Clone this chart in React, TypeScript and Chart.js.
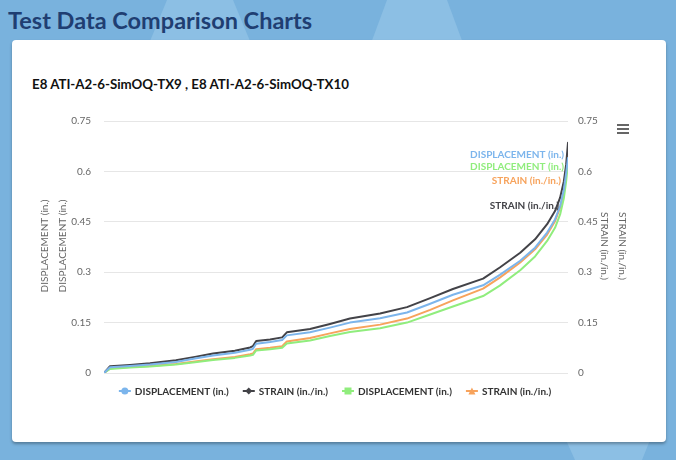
import React, { useEffect, useRef } from "react";
import { Chart, registerables } from "chart.js";

Chart.register(...registerables);

// ---- data ----
const pageTitle = "Test Data Comparison Charts";
const chartTitle = "E8 ATI-A2-6-SimOQ-TX9 , E8 ATI-A2-6-SimOQ-TX10";

const xPositions = [0, 1.3, 5.6, 9.9, 15.5, 19.6, 23.5, 28.2, 31.5, 32.1, 32.8, 35.8, 38.4, 39.4, 44.4, 48.7, 53, 59.5, 65.3, 70.3, 75.2, 81.7, 85.3, 89.7, 92.9, 95.5, 97.2, 98.3, 99.1, 99.6, 100];

const displacementTX9 = [0, 0.017, 0.021, 0.025, 0.033, 0.043, 0.052, 0.060, 0.069, 0.072, 0.087, 0.092, 0.098, 0.112, 0.121, 0.135, 0.150, 0.163, 0.180, 0.206, 0.233, 0.261, 0.292, 0.334, 0.373, 0.418, 0.457, 0.497, 0.545, 0.595, 0.64];
const strainTX9 = [0, 0.020, 0.024, 0.029, 0.038, 0.048, 0.058, 0.066, 0.076, 0.080, 0.095, 0.100, 0.106, 0.121, 0.131, 0.146, 0.162, 0.177, 0.196, 0.223, 0.250, 0.281, 0.314, 0.358, 0.398, 0.443, 0.482, 0.522, 0.57, 0.62, 0.685];
const displacementTX10 = [0, 0.012, 0.016, 0.019, 0.025, 0.032, 0.039, 0.045, 0.052, 0.054, 0.067, 0.071, 0.075, 0.088, 0.097, 0.110, 0.122, 0.133, 0.150, 0.174, 0.198, 0.229, 0.260, 0.306, 0.347, 0.393, 0.432, 0.472, 0.52, 0.57, 0.625];
const strainTX10 = [0, 0.014, 0.018, 0.021, 0.027, 0.034, 0.041, 0.048, 0.056, 0.058, 0.071, 0.075, 0.080, 0.094, 0.104, 0.118, 0.131, 0.144, 0.162, 0.188, 0.216, 0.251, 0.284, 0.329, 0.368, 0.412, 0.452, 0.492, 0.54, 0.595, 0.655];

const seriesNames = ["DISPLACEMENT (in.)", "STRAIN (in./in.)", "DISPLACEMENT (in.)", "STRAIN (in./in.)"];
const seriesColors = ["#7cb5ec", "#434348", "#90ed7d", "#f7a35c"];
const seriesMarkers = ["circle", "diamond", "square", "triangle"];
const yTicks = [0, 0.15, 0.3, 0.45, 0.6, 0.75];
const leftAxisTitles = ["DISPLACEMENT (in.)", "DISPLACEMENT (in.)"];
const rightAxisTitles = ["STRAIN (in./in.)", "STRAIN (in./in.)"];

// label placement (style only): offsets from the last point of each series
const labelDx = [-4, -9, -4, -7];
const labelDy = [-3, 63, 4, 28];

const FONT = "Lato, 'Open Sans', sans-serif";

function drawMarker(ctx: CanvasRenderingContext2D, type: string, x: number, y: number, r: number) {
  ctx.beginPath();
  if (type === "circle") {
    ctx.arc(x, y, r, 0, Math.PI * 2);
  } else if (type === "diamond") {
    ctx.moveTo(x, y - r);
    ctx.lineTo(x + r, y);
    ctx.lineTo(x, y + r);
    ctx.lineTo(x - r, y);
    ctx.closePath();
  } else if (type === "square") {
    ctx.rect(x - r, y - r, 2 * r, 2 * r);
  } else {
    ctx.moveTo(x, y - r);
    ctx.lineTo(x + r, y + r);
    ctx.lineTo(x - r, y + r);
    ctx.closePath();
  }
  ctx.fill();
}

const customPlugin = {
  id: "custom",
  afterDatasetsDraw(chart: any) {
    const ctx: CanvasRenderingContext2D = chart.ctx;
    const area = chart.chartArea;
    ctx.save();
    // end-of-series labels
    ctx.font = `bold 10px ${FONT}`;
    ctx.textAlign = "right";
    ctx.textBaseline = "middle";
    chart.data.datasets.forEach((ds: any, i: number) => {
      const meta = chart.getDatasetMeta(i);
      const last = meta.data[meta.data.length - 1];
      if (!last) return;
      ctx.fillStyle = seriesColors[i];
      ctx.fillText(seriesNames[i], last.x + labelDx[i], last.y + labelDy[i]);
    });

    // axis titles
    ctx.font = `10px ${FONT}`;
    ctx.fillStyle = "#666666";
    ctx.textAlign = "center";
    const cy = (area.top + area.bottom) / 2 - 1;
    const leftX = [area.left - 59, area.left - 41];
    leftAxisTitles.forEach((t, i) => {
      ctx.save();
      ctx.translate(leftX[i], cy);
      ctx.rotate(-Math.PI / 2);
      ctx.fillText(t, 0, 0);
      ctx.restore();
    });
    const rightX = [area.right + 36, area.right + 54];
    rightAxisTitles.forEach((t, i) => {
      ctx.save();
      ctx.translate(rightX[i], cy);
      ctx.rotate(Math.PI / 2);
      ctx.fillText(t, 0, 0);
      ctx.restore();
    });

    // legend
    ctx.font = `bold 10px ${FONT}`;
    ctx.textAlign = "left";
    const symW = 12;
    const symGap = 4;
    const itemGap = 14;
    const widths = seriesNames.map((n) => ctx.measureText(n).width);
    const total = widths.reduce((a, w) => a + symW + symGap + w, 0) + itemGap * (seriesNames.length - 1);
    let x = chart.width / 2 - total / 2 - 3;
    const ly = area.bottom + 18;
    seriesNames.forEach((n, i) => {
      ctx.strokeStyle = seriesColors[i];
      ctx.fillStyle = seriesColors[i];
      ctx.lineWidth = 2;
      ctx.beginPath();
      ctx.moveTo(x, ly);
      ctx.lineTo(x + symW, ly);
      ctx.stroke();
      drawMarker(ctx, seriesMarkers[i], x + symW / 2, ly, 3.5);
      ctx.fillStyle = "#333333";
      ctx.fillText(n, x + symW + symGap, ly + 0.5);
      x += symW + symGap + widths[i] + itemGap;
    });
    ctx.restore();
  },
};

function ChartView() {
  const ref = useRef<HTMLCanvasElement | null>(null);
  useEffect(() => {
    if (!ref.current) return;
    const series = [displacementTX9, strainTX9, displacementTX10, strainTX10];
    const yAxisIds = ["y", "y2", "y", "y2"];
    const tickCb = (v: any) => String(+Number(v).toFixed(2));
    const common = {
      min: 0,
      max: 0.75,
      afterBuildTicks: (s: any) => {
        s.ticks = yTicks.map((v) => ({ value: v }));
      },
      border: { display: false },
    };
    const chart = new Chart(ref.current, {
      type: "line",
      data: {
        datasets: series.map((arr, i) => ({
          label: seriesNames[i],
          data: xPositions.map((x, j) => ({ x, y: arr[j] })),
          borderColor: seriesColors[i],
          backgroundColor: seriesColors[i],
          borderWidth: 2,
          pointRadius: 0,
          tension: 0,
          fill: false,
          yAxisID: yAxisIds[i],
          borderJoinStyle: "round",
          borderCapStyle: "round",
        })),
      },
      options: {
        animation: false,
        responsive: false,
        maintainAspectRatio: false,
        layout: { padding: { top: 121, bottom: 87, left: 0, right: 0 } },
        plugins: {
          legend: { display: false },
          tooltip: { enabled: false },
          title: { display: false },
        },
        scales: {
          x: { type: "linear", min: 0, max: 100, display: false },
          y: {
            ...common,
            position: "left",
            afterFit: (s: any) => {
              s.width = 104;
              s.paddingTop = 0;
              s.paddingBottom = 0;
            },
            grid: { color: "#e6e6e6", drawTicks: false, lineWidth: 1 },
            ticks: { color: "#666666", font: { family: FONT, size: 10 }, padding: 13, callback: tickCb },
          },
          y2: {
            ...common,
            position: "right",
            afterFit: (s: any) => {
              s.width = 108;
              s.paddingTop = 0;
              s.paddingBottom = 0;
            },
            grid: { display: false, drawTicks: false },
            ticks: { color: "#666666", font: { family: FONT, size: 10 }, padding: 10, callback: tickCb },
          },
        },
      } as any,
      plugins: [customPlugin],
    });
    return () => chart.destroy();
  }, []);
  return <canvas ref={ref} width={676} height={460} style={{ position: "absolute", left: 0, top: 0, width: 676, height: 460 }} />;
}

export default function App() {
  return (
    <div style={{ position: "fixed", left: 0, top: 0, width: 676, height: 460, overflow: "hidden", background: "#79b2dd", fontFamily: FONT }}>
      <svg width={676} height={460} style={{ position: "absolute", left: 0, top: 0 }}>
        <polygon points="167,0 233,0 252,46 148,46" fill="#8cbfe4" />
        <polygon points="387,0 447,0 464,46 370,46" fill="#8cbfe4" />
        <polygon points="566,440 650,440 642,460 575,460" fill="#8cbfe4" />
      </svg>
      <div style={{ position: "absolute", left: 8, top: 5, fontSize: 23.5, fontWeight: 700, color: "#1f3e72", lineHeight: "30px", whiteSpace: "nowrap" }}>
        {pageTitle}
      </div>
      <div style={{ position: "absolute", left: 12, top: 40, width: 654, height: 402, background: "#ffffff", borderRadius: 4, boxShadow: "0 2px 3px rgba(0,0,0,0.3)" }} />
      <div style={{ position: "absolute", left: 32, top: 75, fontSize: 13.3, fontWeight: 700, color: "#111111", lineHeight: "18px", whiteSpace: "nowrap" }}>
        {chartTitle}
      </div>
      <ChartView />
      <div style={{ position: "absolute", left: 617, top: 124, width: 12 }}>
        <div style={{ height: 2, background: "#666", marginBottom: 2 }} />
        <div style={{ height: 2, background: "#666", marginBottom: 2 }} />
        <div style={{ height: 2, background: "#666" }} />
      </div>
    </div>
  );
}
